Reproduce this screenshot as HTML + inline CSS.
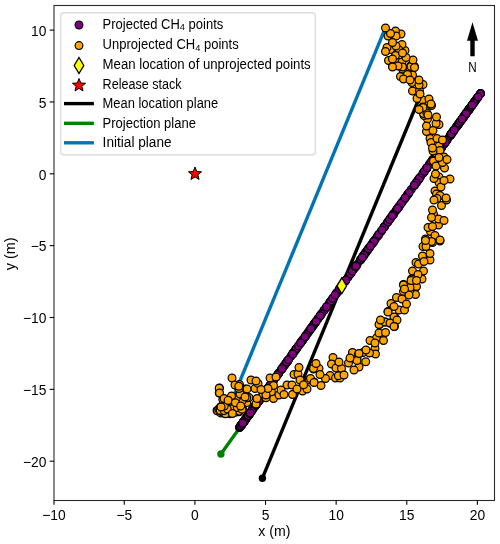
<!DOCTYPE html><html><head><meta charset="utf-8"><style>html,body{margin:0;padding:0;background:#fff;}svg{display:block;will-change:transform;}text{font-family:"Liberation Sans",sans-serif;fill:#000;}</style></head><body>
<svg width="500" height="544" viewBox="0 0 500 544">
<rect width="500" height="544" fill="#fff"/>
<defs><clipPath id="ax"><rect x="54.0" y="5.5" width="440.5" height="495.0"/></clipPath></defs>
<g clip-path="url(#ax)">
<line x1="385.4" y1="27.9" x2="231.3" y2="402" stroke="#0173b2" stroke-width="3.4"/>
<line x1="262.4" y1="478.2" x2="420.5" y2="95" stroke="#000" stroke-width="3.4"/>
<circle cx="262.4" cy="478.2" r="3.7" fill="#000"/>
<line x1="220.9" y1="454" x2="480.2" y2="92.8" stroke="#008000" stroke-width="3.4"/>
<circle cx="220.9" cy="454" r="3.7" fill="#008000"/>
<g fill="#800080" stroke="#000" stroke-width="1.2"><circle cx="239.6" cy="427.4" r="3.9"/><circle cx="242.6" cy="423.2" r="3.9"/><circle cx="245.6" cy="419.0" r="3.9"/><circle cx="248.6" cy="414.9" r="3.9"/><circle cx="251.7" cy="410.7" r="3.9"/><circle cx="254.7" cy="406.5" r="3.9"/><circle cx="257.7" cy="402.3" r="3.9"/><circle cx="260.7" cy="398.2" r="3.9"/><circle cx="263.7" cy="394.0" r="3.9"/><circle cx="266.7" cy="389.8" r="3.9"/><circle cx="269.7" cy="385.6" r="3.9"/><circle cx="272.7" cy="381.5" r="3.9"/><circle cx="275.8" cy="377.3" r="3.9"/><circle cx="278.8" cy="373.1" r="3.9"/><circle cx="281.8" cy="368.9" r="3.9"/><circle cx="284.8" cy="364.8" r="3.9"/><circle cx="287.8" cy="360.6" r="3.9"/><circle cx="290.8" cy="356.4" r="3.9"/><circle cx="293.8" cy="352.2" r="3.9"/><circle cx="296.8" cy="348.1" r="3.9"/><circle cx="299.9" cy="343.9" r="3.9"/><circle cx="302.9" cy="339.7" r="3.9"/><circle cx="305.9" cy="335.5" r="3.9"/><circle cx="308.9" cy="331.4" r="3.9"/><circle cx="311.9" cy="327.2" r="3.9"/><circle cx="314.9" cy="323.0" r="3.9"/><circle cx="317.9" cy="318.8" r="3.9"/><circle cx="320.9" cy="314.7" r="3.9"/><circle cx="323.9" cy="310.5" r="3.9"/><circle cx="327.0" cy="306.3" r="3.9"/><circle cx="330.0" cy="302.1" r="3.9"/><circle cx="333.0" cy="298.0" r="3.9"/><circle cx="336.0" cy="293.8" r="3.9"/><circle cx="339.0" cy="289.6" r="3.9"/><circle cx="342.0" cy="285.4" r="3.9"/><circle cx="345.0" cy="281.3" r="3.9"/><circle cx="348.1" cy="277.1" r="3.9"/><circle cx="351.1" cy="272.9" r="3.9"/><circle cx="354.1" cy="268.8" r="3.9"/><circle cx="357.1" cy="264.6" r="3.9"/><circle cx="360.1" cy="260.4" r="3.9"/><circle cx="363.1" cy="256.2" r="3.9"/><circle cx="366.1" cy="252.0" r="3.9"/><circle cx="369.1" cy="247.9" r="3.9"/><circle cx="372.2" cy="243.7" r="3.9"/><circle cx="375.2" cy="239.5" r="3.9"/><circle cx="378.2" cy="235.3" r="3.9"/><circle cx="381.2" cy="231.2" r="3.9"/><circle cx="384.2" cy="227.0" r="3.9"/><circle cx="387.2" cy="222.8" r="3.9"/><circle cx="390.2" cy="218.6" r="3.9"/><circle cx="393.2" cy="214.5" r="3.9"/><circle cx="396.2" cy="210.3" r="3.9"/><circle cx="399.3" cy="206.1" r="3.9"/><circle cx="402.3" cy="201.9" r="3.9"/><circle cx="405.3" cy="197.8" r="3.9"/><circle cx="408.3" cy="193.6" r="3.9"/><circle cx="411.3" cy="189.4" r="3.9"/><circle cx="414.3" cy="185.2" r="3.9"/><circle cx="417.3" cy="181.1" r="3.9"/><circle cx="420.4" cy="176.9" r="3.9"/><circle cx="423.4" cy="172.7" r="3.9"/><circle cx="426.4" cy="168.5" r="3.9"/><circle cx="429.4" cy="164.4" r="3.9"/><circle cx="432.4" cy="160.2" r="3.9"/><circle cx="435.4" cy="156.0" r="3.9"/><circle cx="438.4" cy="151.8" r="3.9"/><circle cx="441.4" cy="147.7" r="3.9"/><circle cx="444.5" cy="143.5" r="3.9"/><circle cx="447.5" cy="139.3" r="3.9"/><circle cx="450.5" cy="135.1" r="3.9"/><circle cx="453.5" cy="131.0" r="3.9"/><circle cx="456.5" cy="126.8" r="3.9"/><circle cx="459.5" cy="122.6" r="3.9"/><circle cx="462.5" cy="118.4" r="3.9"/><circle cx="465.5" cy="114.3" r="3.9"/><circle cx="468.6" cy="110.1" r="3.9"/><circle cx="471.6" cy="105.9" r="3.9"/><circle cx="474.6" cy="101.8" r="3.9"/><circle cx="477.6" cy="97.6" r="3.9"/><circle cx="480.6" cy="93.4" r="3.9"/><circle cx="245.5" cy="419.4" r="3.9"/><circle cx="245.8" cy="418.8" r="3.9"/><circle cx="240.9" cy="425.6" r="3.9"/><circle cx="244.9" cy="420.1" r="3.9"/><circle cx="241.8" cy="424.5" r="3.9"/><circle cx="242.7" cy="423.2" r="3.9"/><circle cx="239.7" cy="427.4" r="3.9"/><circle cx="242.7" cy="423.2" r="3.9"/><circle cx="239.6" cy="427.4" r="3.9"/><circle cx="239.9" cy="427.1" r="3.9"/><circle cx="245.4" cy="419.4" r="3.9"/><circle cx="249.7" cy="413.5" r="3.9"/><circle cx="249.6" cy="413.6" r="3.9"/><circle cx="249.8" cy="413.4" r="3.9"/><circle cx="242.5" cy="423.4" r="3.9"/><circle cx="242.8" cy="423.1" r="3.9"/><circle cx="250.0" cy="413.1" r="3.9"/><circle cx="253.8" cy="407.8" r="3.9"/><circle cx="245.6" cy="419.2" r="3.9"/><circle cx="244.1" cy="421.2" r="3.9"/><circle cx="248.7" cy="414.8" r="3.9"/><circle cx="244.5" cy="420.7" r="3.9"/><circle cx="242.0" cy="424.1" r="3.9"/><circle cx="244.5" cy="420.7" r="3.9"/><circle cx="242.3" cy="423.7" r="3.9"/><circle cx="248.9" cy="414.6" r="3.9"/><circle cx="245.6" cy="419.2" r="3.9"/><circle cx="247.4" cy="416.7" r="3.9"/><circle cx="243.5" cy="422.1" r="3.9"/><circle cx="240.9" cy="425.7" r="3.9"/><circle cx="242.6" cy="423.4" r="3.9"/><circle cx="244.3" cy="421.0" r="3.9"/><circle cx="244.0" cy="421.4" r="3.9"/><circle cx="245.6" cy="419.1" r="3.9"/><circle cx="246.8" cy="417.6" r="3.9"/><circle cx="244.6" cy="420.5" r="3.9"/><circle cx="245.2" cy="419.7" r="3.9"/><circle cx="247.7" cy="416.3" r="3.9"/><circle cx="248.5" cy="415.2" r="3.9"/><circle cx="248.6" cy="415.0" r="3.9"/><circle cx="249.6" cy="413.7" r="3.9"/><circle cx="240.4" cy="426.3" r="3.9"/><circle cx="248.5" cy="415.2" r="3.9"/><circle cx="242.1" cy="424.0" r="3.9"/><circle cx="242.8" cy="423.0" r="3.9"/><circle cx="249.1" cy="414.3" r="3.9"/><circle cx="245.6" cy="419.1" r="3.9"/><circle cx="240.9" cy="425.6" r="3.9"/><circle cx="240.9" cy="425.7" r="3.9"/><circle cx="241.9" cy="424.3" r="3.9"/><circle cx="243.5" cy="422.0" r="3.9"/><circle cx="241.1" cy="425.3" r="3.9"/><circle cx="242.9" cy="423.0" r="3.9"/><circle cx="247.2" cy="416.9" r="3.9"/><circle cx="243.6" cy="422.0" r="3.9"/><circle cx="248.1" cy="415.7" r="3.9"/><circle cx="245.3" cy="419.6" r="3.9"/><circle cx="240.8" cy="425.8" r="3.9"/><circle cx="242.1" cy="424.1" r="3.9"/><circle cx="244.0" cy="421.4" r="3.9"/><circle cx="248.9" cy="414.5" r="3.9"/><circle cx="243.6" cy="421.9" r="3.9"/><circle cx="243.9" cy="421.6" r="3.9"/><circle cx="244.3" cy="421.0" r="3.9"/><circle cx="273.4" cy="380.6" r="3.9"/><circle cx="437.0" cy="153.8" r="3.9"/><circle cx="432.4" cy="160.2" r="3.9"/><circle cx="404.2" cy="199.4" r="3.9"/><circle cx="457.2" cy="125.9" r="3.9"/><circle cx="474.2" cy="102.2" r="3.9"/><circle cx="256.9" cy="403.4" r="3.9"/><circle cx="336.9" cy="292.7" r="3.9"/><circle cx="480.6" cy="93.4" r="3.9"/><circle cx="314.0" cy="324.3" r="3.9"/><circle cx="461.7" cy="119.6" r="3.9"/><circle cx="451.4" cy="133.8" r="3.9"/><circle cx="329.5" cy="302.9" r="3.9"/><circle cx="470.1" cy="108.0" r="3.9"/><circle cx="305.1" cy="336.7" r="3.9"/><circle cx="276.1" cy="376.9" r="3.9"/><circle cx="326.0" cy="307.7" r="3.9"/><circle cx="416.3" cy="182.5" r="3.9"/><circle cx="350.5" cy="273.8" r="3.9"/><circle cx="324.0" cy="310.4" r="3.9"/><circle cx="450.0" cy="135.8" r="3.9"/><circle cx="391.0" cy="217.5" r="3.9"/><circle cx="468.9" cy="109.6" r="3.9"/><circle cx="393.8" cy="213.6" r="3.9"/><circle cx="460.5" cy="121.3" r="3.9"/><circle cx="265.1" cy="392.2" r="3.9"/><circle cx="407.6" cy="194.6" r="3.9"/><circle cx="278.7" cy="373.2" r="3.9"/><circle cx="292.9" cy="353.6" r="3.9"/><circle cx="265.9" cy="391.1" r="3.9"/><circle cx="397.2" cy="209.0" r="3.9"/><circle cx="350.7" cy="273.4" r="3.9"/><circle cx="469.6" cy="108.6" r="3.9"/><circle cx="373.5" cy="241.9" r="3.9"/><circle cx="330.7" cy="301.1" r="3.9"/><circle cx="407.0" cy="195.5" r="3.9"/><circle cx="251.1" cy="411.6" r="3.9"/><circle cx="429.7" cy="163.9" r="3.9"/><circle cx="464.7" cy="115.4" r="3.9"/><circle cx="426.8" cy="167.9" r="3.9"/><circle cx="437.0" cy="153.9" r="3.9"/><circle cx="373.1" cy="242.5" r="3.9"/><circle cx="301.5" cy="341.6" r="3.9"/><circle cx="450.4" cy="135.2" r="3.9"/><circle cx="256.0" cy="404.7" r="3.9"/><circle cx="310.8" cy="328.8" r="3.9"/><circle cx="398.3" cy="207.5" r="3.9"/><circle cx="399.3" cy="206.1" r="3.9"/><circle cx="350.4" cy="273.9" r="3.9"/><circle cx="367.2" cy="250.6" r="3.9"/><circle cx="252.9" cy="409.1" r="3.9"/><circle cx="468.8" cy="109.7" r="3.9"/><circle cx="463.8" cy="116.7" r="3.9"/><circle cx="268.6" cy="387.3" r="3.9"/><circle cx="295.6" cy="349.8" r="3.9"/><circle cx="287.8" cy="360.7" r="3.9"/><circle cx="451.2" cy="134.2" r="3.9"/><circle cx="267.5" cy="388.9" r="3.9"/><circle cx="259.5" cy="399.9" r="3.9"/><circle cx="271.7" cy="383.0" r="3.9"/><circle cx="271.2" cy="383.7" r="3.9"/><circle cx="326.6" cy="306.9" r="3.9"/><circle cx="339.9" cy="288.4" r="3.9"/><circle cx="414.3" cy="185.2" r="3.9"/><circle cx="263.5" cy="394.4" r="3.9"/><circle cx="464.6" cy="115.6" r="3.9"/><circle cx="296.4" cy="348.8" r="3.9"/><circle cx="345.6" cy="280.6" r="3.9"/><circle cx="365.8" cy="252.5" r="3.9"/><circle cx="308.0" cy="332.7" r="3.9"/><circle cx="317.9" cy="318.9" r="3.9"/><circle cx="341.2" cy="286.6" r="3.9"/><circle cx="295.0" cy="350.6" r="3.9"/><circle cx="465.4" cy="114.5" r="3.9"/><circle cx="384.8" cy="226.2" r="3.9"/><circle cx="287.0" cy="361.8" r="3.9"/><circle cx="336.7" cy="292.9" r="3.9"/><circle cx="455.9" cy="127.6" r="3.9"/><circle cx="441.7" cy="147.3" r="3.9"/><circle cx="378.7" cy="234.6" r="3.9"/><circle cx="462.4" cy="118.7" r="3.9"/><circle cx="441.4" cy="147.8" r="3.9"/><circle cx="454.0" cy="130.2" r="3.9"/><circle cx="262.8" cy="395.4" r="3.9"/><circle cx="260.1" cy="399.0" r="3.9"/><circle cx="457.7" cy="125.1" r="3.9"/><circle cx="277.9" cy="374.4" r="3.9"/><circle cx="367.6" cy="250.0" r="3.9"/><circle cx="443.8" cy="144.4" r="3.9"/><circle cx="457.9" cy="124.9" r="3.9"/><circle cx="360.7" cy="259.6" r="3.9"/><circle cx="314.3" cy="324.0" r="3.9"/><circle cx="398.0" cy="207.9" r="3.9"/><circle cx="440.2" cy="149.4" r="3.9"/><circle cx="321.6" cy="313.8" r="3.9"/><circle cx="352.4" cy="271.1" r="3.9"/><circle cx="450.9" cy="134.6" r="3.9"/><circle cx="263.3" cy="394.7" r="3.9"/><circle cx="394.0" cy="213.5" r="3.9"/><circle cx="476.0" cy="99.7" r="3.9"/><circle cx="466.4" cy="113.1" r="3.9"/><circle cx="246.9" cy="417.4" r="3.9"/><circle cx="472.6" cy="104.5" r="3.9"/><circle cx="472.4" cy="104.8" r="3.9"/><circle cx="266.7" cy="390.0" r="3.9"/><circle cx="408.2" cy="193.8" r="3.9"/><circle cx="388.6" cy="220.9" r="3.9"/><circle cx="283.5" cy="366.6" r="3.9"/><circle cx="369.4" cy="247.6" r="3.9"/><circle cx="377.3" cy="236.5" r="3.9"/><circle cx="439.6" cy="150.2" r="3.9"/><circle cx="301.2" cy="342.0" r="3.9"/><circle cx="281.2" cy="369.8" r="3.9"/><circle cx="258.9" cy="400.7" r="3.9"/><circle cx="364.0" cy="255.0" r="3.9"/><circle cx="424.3" cy="171.5" r="3.9"/><circle cx="252.4" cy="409.7" r="3.9"/><circle cx="363.5" cy="255.7" r="3.9"/><circle cx="255.5" cy="405.4" r="3.9"/><circle cx="345.4" cy="280.7" r="3.9"/><circle cx="302.9" cy="339.7" r="3.9"/><circle cx="384.0" cy="227.3" r="3.9"/><circle cx="320.0" cy="316.0" r="3.9"/><circle cx="276.0" cy="377.0" r="3.9"/><circle cx="446.4" cy="140.8" r="3.9"/><circle cx="473.2" cy="103.6" r="3.9"/><circle cx="297.9" cy="346.6" r="3.9"/><circle cx="363.1" cy="256.3" r="3.9"/><circle cx="345.9" cy="280.1" r="3.9"/><circle cx="468.6" cy="110.0" r="3.9"/><circle cx="460.3" cy="121.5" r="3.9"/><circle cx="320.2" cy="315.8" r="3.9"/><circle cx="463.0" cy="117.8" r="3.9"/><circle cx="467.8" cy="111.1" r="3.9"/><circle cx="248.6" cy="415.0" r="3.9"/><circle cx="286.2" cy="362.9" r="3.9"/><circle cx="248.5" cy="415.2" r="3.9"/><circle cx="293.1" cy="353.3" r="3.9"/><circle cx="332.7" cy="298.4" r="3.9"/><circle cx="355.5" cy="266.9" r="3.9"/><circle cx="436.9" cy="153.9" r="3.9"/><circle cx="285.1" cy="364.4" r="3.9"/><circle cx="264.1" cy="393.6" r="3.9"/><circle cx="259.7" cy="399.6" r="3.9"/><circle cx="339.9" cy="288.4" r="3.9"/><circle cx="315.7" cy="322.0" r="3.9"/><circle cx="418.9" cy="179.0" r="3.9"/><circle cx="465.6" cy="114.1" r="3.9"/><circle cx="469.3" cy="109.0" r="3.9"/><circle cx="438.0" cy="152.5" r="3.9"/><circle cx="418.7" cy="179.2" r="3.9"/><circle cx="270.6" cy="384.5" r="3.9"/><circle cx="464.5" cy="115.7" r="3.9"/><circle cx="312.8" cy="326.0" r="3.9"/><circle cx="444.2" cy="143.9" r="3.9"/><circle cx="364.9" cy="253.8" r="3.9"/><circle cx="250.9" cy="411.9" r="3.9"/><circle cx="368.5" cy="248.8" r="3.9"/><circle cx="418.0" cy="180.2" r="3.9"/><circle cx="378.9" cy="234.4" r="3.9"/><circle cx="446.5" cy="140.6" r="3.9"/><circle cx="469.6" cy="108.6" r="3.9"/><circle cx="260.2" cy="398.9" r="3.9"/><circle cx="341.2" cy="286.6" r="3.9"/><circle cx="267.1" cy="389.3" r="3.9"/><circle cx="466.9" cy="112.3" r="3.9"/><circle cx="387.8" cy="222.0" r="3.9"/><circle cx="480.1" cy="94.1" r="3.9"/><circle cx="345.1" cy="281.2" r="3.9"/><circle cx="409.1" cy="192.5" r="3.9"/><circle cx="393.0" cy="214.8" r="3.9"/><circle cx="356.7" cy="265.2" r="3.9"/><circle cx="477.9" cy="97.1" r="3.9"/><circle cx="401.3" cy="203.2" r="3.9"/><circle cx="418.5" cy="179.5" r="3.9"/><circle cx="296.3" cy="348.8" r="3.9"/><circle cx="314.5" cy="323.6" r="3.9"/><circle cx="445.4" cy="142.2" r="3.9"/><circle cx="298.4" cy="345.9" r="3.9"/><circle cx="459.9" cy="122.1" r="3.9"/><circle cx="309.8" cy="330.2" r="3.9"/><circle cx="382.0" cy="230.1" r="3.9"/><circle cx="283.0" cy="367.3" r="3.9"/><circle cx="451.9" cy="133.2" r="3.9"/><circle cx="255.4" cy="405.5" r="3.9"/><circle cx="312.1" cy="327.0" r="3.9"/><circle cx="373.8" cy="241.5" r="3.9"/><circle cx="430.9" cy="162.2" r="3.9"/><circle cx="419.4" cy="178.2" r="3.9"/><circle cx="433.0" cy="159.4" r="3.9"/><circle cx="267.8" cy="388.4" r="3.9"/><circle cx="422.8" cy="173.4" r="3.9"/><circle cx="306.6" cy="334.6" r="3.9"/><circle cx="264.9" cy="392.4" r="3.9"/><circle cx="341.2" cy="286.7" r="3.9"/><circle cx="251.5" cy="411.0" r="3.9"/><circle cx="339.3" cy="289.3" r="3.9"/><circle cx="345.7" cy="280.4" r="3.9"/><circle cx="273.6" cy="380.4" r="3.9"/><circle cx="434.9" cy="156.8" r="3.9"/><circle cx="426.9" cy="167.8" r="3.9"/><circle cx="471.3" cy="106.3" r="3.9"/><circle cx="438.2" cy="152.2" r="3.9"/><circle cx="465.3" cy="114.6" r="3.9"/><circle cx="255.8" cy="405.1" r="3.9"/><circle cx="397.6" cy="208.4" r="3.9"/><circle cx="416.1" cy="182.9" r="3.9"/><circle cx="475.1" cy="101.0" r="3.9"/><circle cx="437.8" cy="152.7" r="3.9"/><circle cx="405.2" cy="197.9" r="3.9"/><circle cx="248.7" cy="414.8" r="3.9"/><circle cx="316.1" cy="321.5" r="3.9"/><circle cx="458.3" cy="124.3" r="3.9"/><circle cx="335.2" cy="294.9" r="3.9"/><circle cx="310.8" cy="328.8" r="3.9"/><circle cx="257.7" cy="402.4" r="3.9"/><circle cx="361.0" cy="259.2" r="3.9"/><circle cx="452.6" cy="132.1" r="3.9"/><circle cx="436.0" cy="155.2" r="3.9"/><circle cx="256.4" cy="404.3" r="3.9"/><circle cx="247.7" cy="416.2" r="3.9"/><circle cx="459.1" cy="123.2" r="3.9"/><circle cx="452.0" cy="133.0" r="3.9"/><circle cx="287.4" cy="361.2" r="3.9"/><circle cx="453.8" cy="130.5" r="3.9"/><circle cx="477.1" cy="98.2" r="3.9"/><circle cx="257.9" cy="402.1" r="3.9"/><circle cx="478.0" cy="97.0" r="3.9"/><circle cx="463.9" cy="116.6" r="3.9"/><circle cx="460.4" cy="121.4" r="3.9"/><circle cx="389.7" cy="219.4" r="3.9"/><circle cx="341.0" cy="286.9" r="3.9"/><circle cx="462.2" cy="118.9" r="3.9"/><circle cx="465.9" cy="113.8" r="3.9"/><circle cx="286.7" cy="362.1" r="3.9"/><circle cx="292.6" cy="354.0" r="3.9"/><circle cx="424.4" cy="171.3" r="3.9"/><circle cx="288.5" cy="359.7" r="3.9"/><circle cx="414.3" cy="185.3" r="3.9"/><circle cx="355.9" cy="266.2" r="3.9"/><circle cx="277.7" cy="374.6" r="3.9"/><circle cx="392.3" cy="215.7" r="3.9"/><circle cx="473.6" cy="103.1" r="3.9"/><circle cx="282.0" cy="368.7" r="3.9"/><circle cx="451.5" cy="133.7" r="3.9"/><circle cx="292.6" cy="354.0" r="3.9"/><circle cx="370.4" cy="246.1" r="3.9"/><circle cx="248.4" cy="415.3" r="3.9"/><circle cx="300.7" cy="342.7" r="3.9"/><circle cx="454.1" cy="130.1" r="3.9"/><circle cx="427.0" cy="167.7" r="3.9"/><circle cx="462.1" cy="119.0" r="3.9"/><circle cx="363.8" cy="255.3" r="3.9"/><circle cx="259.3" cy="400.2" r="3.9"/><circle cx="472.2" cy="105.0" r="3.9"/><circle cx="258.7" cy="401.0" r="3.9"/><circle cx="305.1" cy="336.7" r="3.9"/><circle cx="362.2" cy="257.5" r="3.9"/><circle cx="248.3" cy="415.5" r="3.9"/><circle cx="249.7" cy="413.5" r="3.9"/><circle cx="242.7" cy="423.1" r="3.9"/><circle cx="250.1" cy="413.0" r="3.9"/></g>
<g fill="#ffa500" stroke="#000" stroke-width="1.2"><circle cx="231.6" cy="409.0" r="3.9"/><circle cx="234.8" cy="410.6" r="3.9"/><circle cx="224.0" cy="413.0" r="3.9"/><circle cx="230.0" cy="409.0" r="3.9"/><circle cx="225.0" cy="412.0" r="3.9"/><circle cx="221.0" cy="407.0" r="3.9"/><circle cx="217.0" cy="410.5" r="3.9"/><circle cx="229.0" cy="413.0" r="3.9"/><circle cx="217.6" cy="411.0" r="3.9"/><circle cx="221.0" cy="413.0" r="3.9"/><circle cx="233.5" cy="410.5" r="3.9"/><circle cx="235.6" cy="403.0" r="3.9"/><circle cx="235.5" cy="403.0" r="3.9"/><circle cx="240.5" cy="406.5" r="3.9"/><circle cx="229.6" cy="413.8" r="3.9"/><circle cx="221.2" cy="407.0" r="3.9"/><circle cx="241.2" cy="406.6" r="3.9"/><circle cx="246.8" cy="402.6" r="3.9"/><circle cx="236.0" cy="412.0" r="3.9"/><circle cx="229.3" cy="410.2" r="3.9"/><circle cx="241.1" cy="409.1" r="3.9"/><circle cx="230.7" cy="410.5" r="3.9"/><circle cx="222.6" cy="409.6" r="3.9"/><circle cx="233.7" cy="412.7" r="3.9"/><circle cx="220.4" cy="407.3" r="3.9"/><circle cx="235.3" cy="404.5" r="3.9"/><circle cx="234.3" cy="410.8" r="3.9"/><circle cx="231.2" cy="404.7" r="3.9"/><circle cx="222.8" cy="406.7" r="3.9"/><circle cx="218.8" cy="409.1" r="3.9"/><circle cx="229.0" cy="413.3" r="3.9"/><circle cx="231.0" cy="411.0" r="3.9"/><circle cx="230.5" cy="411.3" r="3.9"/><circle cx="229.4" cy="407.1" r="3.9"/><circle cx="239.0" cy="411.8" r="3.9"/><circle cx="225.9" cy="406.5" r="3.9"/><circle cx="225.2" cy="404.8" r="3.9"/><circle cx="237.2" cy="408.4" r="3.9"/><circle cx="239.2" cy="408.3" r="3.9"/><circle cx="240.8" cy="409.2" r="3.9"/><circle cx="242.5" cy="408.4" r="3.9"/><circle cx="219.8" cy="410.9" r="3.9"/><circle cx="237.5" cy="407.0" r="3.9"/><circle cx="220.2" cy="407.7" r="3.9"/><circle cx="220.9" cy="406.7" r="3.9"/><circle cx="237.9" cy="406.0" r="3.9"/><circle cx="232.0" cy="408.9" r="3.9"/><circle cx="222.8" cy="412.1" r="3.9"/><circle cx="221.3" cy="411.1" r="3.9"/><circle cx="220.9" cy="408.6" r="3.9"/><circle cx="223.3" cy="407.0" r="3.9"/><circle cx="225.6" cy="413.7" r="3.9"/><circle cx="223.3" cy="408.3" r="3.9"/><circle cx="239.4" cy="411.1" r="3.9"/><circle cx="223.3" cy="406.8" r="3.9"/><circle cx="237.3" cy="407.6" r="3.9"/><circle cx="225.4" cy="404.8" r="3.9"/><circle cx="220.3" cy="410.4" r="3.9"/><circle cx="224.1" cy="410.6" r="3.9"/><circle cx="227.3" cy="409.0" r="3.9"/><circle cx="242.0" cy="409.3" r="3.9"/><circle cx="232.4" cy="413.5" r="3.9"/><circle cx="222.6" cy="405.7" r="3.9"/><circle cx="224.2" cy="406.1" r="3.9"/><circle cx="270.0" cy="378.0" r="3.9"/><circle cx="436.0" cy="153.0" r="3.9"/><circle cx="433.5" cy="161.0" r="3.9"/><circle cx="438.5" cy="225.0" r="3.9"/><circle cx="422.5" cy="100.0" r="3.9"/><circle cx="405.0" cy="50.5" r="3.9"/><circle cx="249.0" cy="397.5" r="3.9"/><circle cx="379.5" cy="324.5" r="3.9"/><circle cx="401.0" cy="34.0" r="3.9"/><circle cx="352.5" cy="353.0" r="3.9"/><circle cx="412.0" cy="82.5" r="3.9"/><circle cx="439.0" cy="124.5" r="3.9"/><circle cx="376.5" cy="338.0" r="3.9"/><circle cx="414.5" cy="66.5" r="3.9"/><circle cx="333.0" cy="357.5" r="3.9"/><circle cx="287.0" cy="385.0" r="3.9"/><circle cx="370.0" cy="340.5" r="3.9"/><circle cx="437.0" cy="198.0" r="3.9"/><circle cx="399.0" cy="310.0" r="3.9"/><circle cx="375.0" cy="348.5" r="3.9"/><circle cx="427.5" cy="119.0" r="3.9"/><circle cx="426.5" cy="244.0" r="3.9"/><circle cx="410.5" cy="66.0" r="3.9"/><circle cx="432.5" cy="242.5" r="3.9"/><circle cx="400.5" cy="76.5" r="3.9"/><circle cx="273.5" cy="398.5" r="3.9"/><circle cx="433.5" cy="214.0" r="3.9"/><circle cx="302.5" cy="391.0" r="3.9"/><circle cx="313.5" cy="369.0" r="3.9"/><circle cx="251.0" cy="380.0" r="3.9"/><circle cx="440.0" cy="241.0" r="3.9"/><circle cx="391.0" cy="303.5" r="3.9"/><circle cx="390.5" cy="49.5" r="3.9"/><circle cx="412.5" cy="271.0" r="3.9"/><circle cx="383.5" cy="340.5" r="3.9"/><circle cx="438.5" cy="219.0" r="3.9"/><circle cx="219.5" cy="388.0" r="3.9"/><circle cx="450.0" cy="179.0" r="3.9"/><circle cx="402.5" cy="69.0" r="3.9"/><circle cx="439.0" cy="177.0" r="3.9"/><circle cx="436.5" cy="153.5" r="3.9"/><circle cx="422.0" cy="279.0" r="3.9"/><circle cx="331.5" cy="364.0" r="3.9"/><circle cx="424.0" cy="115.5" r="3.9"/><circle cx="246.8" cy="397.8" r="3.9"/><circle cx="350.5" cy="358.5" r="3.9"/><circle cx="430.5" cy="231.5" r="3.9"/><circle cx="428.0" cy="227.5" r="3.9"/><circle cx="394.0" cy="306.5" r="3.9"/><circle cx="416.0" cy="287.0" r="3.9"/><circle cx="242.0" cy="401.0" r="3.9"/><circle cx="411.0" cy="66.5" r="3.9"/><circle cx="388.5" cy="60.5" r="3.9"/><circle cx="279.0" cy="395.0" r="3.9"/><circle cx="330.0" cy="375.5" r="3.9"/><circle cx="321.0" cy="385.5" r="3.9"/><circle cx="423.5" cy="113.5" r="3.9"/><circle cx="271.4" cy="391.8" r="3.9"/><circle cx="245.0" cy="389.0" r="3.9"/><circle cx="281.0" cy="390.0" r="3.9"/><circle cx="273.5" cy="385.5" r="3.9"/><circle cx="375.0" cy="343.0" r="3.9"/><circle cx="385.0" cy="322.0" r="3.9"/><circle cx="441.5" cy="205.5" r="3.9"/><circle cx="263.0" cy="394.0" r="3.9"/><circle cx="423.0" cy="84.5" r="3.9"/><circle cx="335.5" cy="378.0" r="3.9"/><circle cx="395.0" cy="317.5" r="3.9"/><circle cx="410.0" cy="285.5" r="3.9"/><circle cx="348.5" cy="363.0" r="3.9"/><circle cx="363.0" cy="352.5" r="3.9"/><circle cx="390.0" cy="323.0" r="3.9"/><circle cx="319.0" cy="368.5" r="3.9"/><circle cx="412.5" cy="75.0" r="3.9"/><circle cx="430.0" cy="260.0" r="3.9"/><circle cx="314.0" cy="382.0" r="3.9"/><circle cx="379.0" cy="324.5" r="3.9"/><circle cx="417.0" cy="98.5" r="3.9"/><circle cx="430.0" cy="138.5" r="3.9"/><circle cx="416.0" cy="262.5" r="3.9"/><circle cx="392.5" cy="66.5" r="3.9"/><circle cx="439.0" cy="146.0" r="3.9"/><circle cx="423.0" cy="107.0" r="3.9"/><circle cx="266.0" cy="397.8" r="3.9"/><circle cx="232.0" cy="378.0" r="3.9"/><circle cx="431.5" cy="105.5" r="3.9"/><circle cx="292.0" cy="385.0" r="3.9"/><circle cx="416.5" cy="286.5" r="3.9"/><circle cx="426.5" cy="131.5" r="3.9"/><circle cx="412.5" cy="91.0" r="3.9"/><circle cx="403.5" cy="291.5" r="3.9"/><circle cx="352.5" cy="352.5" r="3.9"/><circle cx="435.0" cy="235.5" r="3.9"/><circle cx="431.0" cy="142.5" r="3.9"/><circle cx="375.5" cy="354.0" r="3.9"/><circle cx="404.5" cy="310.0" r="3.9"/><circle cx="436.0" cy="123.5" r="3.9"/><circle cx="255.0" cy="388.5" r="3.9"/><circle cx="431.5" cy="241.5" r="3.9"/><circle cx="402.0" cy="44.5" r="3.9"/><circle cx="398.0" cy="62.0" r="3.9"/><circle cx="222.8" cy="399.4" r="3.9"/><circle cx="413.0" cy="60.0" r="3.9"/><circle cx="399.0" cy="50.0" r="3.9"/><circle cx="258.0" cy="383.5" r="3.9"/><circle cx="444.0" cy="220.5" r="3.9"/><circle cx="423.0" cy="246.5" r="3.9"/><circle cx="294.0" cy="374.5" r="3.9"/><circle cx="411.5" cy="279.0" r="3.9"/><circle cx="423.5" cy="271.0" r="3.9"/><circle cx="440.0" cy="150.5" r="3.9"/><circle cx="336.0" cy="368.0" r="3.9"/><circle cx="307.0" cy="389.0" r="3.9"/><circle cx="244.4" cy="389.8" r="3.9"/><circle cx="403.5" cy="284.5" r="3.9"/><circle cx="439.0" cy="182.5" r="3.9"/><circle cx="236.4" cy="397.8" r="3.9"/><circle cx="415.5" cy="294.5" r="3.9"/><circle cx="240.0" cy="393.8" r="3.9"/><circle cx="394.0" cy="317.0" r="3.9"/><circle cx="341.5" cy="368.5" r="3.9"/><circle cx="422.5" cy="256.0" r="3.9"/><circle cx="369.5" cy="353.0" r="3.9"/><circle cx="276.0" cy="377.0" r="3.9"/><circle cx="426.5" cy="126.0" r="3.9"/><circle cx="396.0" cy="46.0" r="3.9"/><circle cx="340.0" cy="378.0" r="3.9"/><circle cx="409.5" cy="291.0" r="3.9"/><circle cx="388.0" cy="311.5" r="3.9"/><circle cx="395.5" cy="55.5" r="3.9"/><circle cx="419.5" cy="91.0" r="3.9"/><circle cx="366.0" cy="350.0" r="3.9"/><circle cx="419.0" cy="85.0" r="3.9"/><circle cx="402.0" cy="62.0" r="3.9"/><circle cx="219.2" cy="393.0" r="3.9"/><circle cx="309.0" cy="380.0" r="3.9"/><circle cx="228.4" cy="400.2" r="3.9"/><circle cx="313.5" cy="368.5" r="3.9"/><circle cx="379.0" cy="333.0" r="3.9"/><circle cx="396.5" cy="297.5" r="3.9"/><circle cx="433.0" cy="151.0" r="3.9"/><circle cx="298.0" cy="374.0" r="3.9"/><circle cx="266.0" cy="395.0" r="3.9"/><circle cx="239.5" cy="384.5" r="3.9"/><circle cx="385.0" cy="322.0" r="3.9"/><circle cx="358.5" cy="354.0" r="3.9"/><circle cx="435.0" cy="191.0" r="3.9"/><circle cx="402.5" cy="67.0" r="3.9"/><circle cx="387.0" cy="47.5" r="3.9"/><circle cx="444.0" cy="157.0" r="3.9"/><circle cx="446.5" cy="200.0" r="3.9"/><circle cx="284.0" cy="394.5" r="3.9"/><circle cx="398.0" cy="66.0" r="3.9"/><circle cx="357.0" cy="359.0" r="3.9"/><circle cx="437.0" cy="138.5" r="3.9"/><circle cx="410.0" cy="287.5" r="3.9"/><circle cx="219.2" cy="388.2" r="3.9"/><circle cx="411.0" cy="280.5" r="3.9"/><circle cx="436.5" cy="194.0" r="3.9"/><circle cx="418.5" cy="264.0" r="3.9"/><circle cx="433.0" cy="130.5" r="3.9"/><circle cx="414.5" cy="67.5" r="3.9"/><circle cx="247.0" cy="389.0" r="3.9"/><circle cx="390.0" cy="323.0" r="3.9"/><circle cx="256.0" cy="381.0" r="3.9"/><circle cx="385.5" cy="51.5" r="3.9"/><circle cx="430.0" cy="253.5" r="3.9"/><circle cx="395.5" cy="31.0" r="3.9"/><circle cx="397.0" cy="320.0" r="3.9"/><circle cx="432.5" cy="210.0" r="3.9"/><circle cx="425.5" cy="239.0" r="3.9"/><circle cx="402.0" cy="299.0" r="3.9"/><circle cx="396.0" cy="36.0" r="3.9"/><circle cx="432.5" cy="226.5" r="3.9"/><circle cx="440.0" cy="195.5" r="3.9"/><circle cx="316.0" cy="363.5" r="3.9"/><circle cx="365.7" cy="361.8" r="3.9"/><circle cx="442.5" cy="140.0" r="3.9"/><circle cx="338.4" cy="375.8" r="3.9"/><circle cx="429.0" cy="99.0" r="3.9"/><circle cx="359.0" cy="367.0" r="3.9"/><circle cx="424.0" cy="261.5" r="3.9"/><circle cx="300.0" cy="380.0" r="3.9"/><circle cx="419.5" cy="109.0" r="3.9"/><circle cx="240.0" cy="394.0" r="3.9"/><circle cx="357.0" cy="360.5" r="3.9"/><circle cx="418.0" cy="274.5" r="3.9"/><circle cx="436.0" cy="166.0" r="3.9"/><circle cx="446.0" cy="198.0" r="3.9"/><circle cx="444.5" cy="168.0" r="3.9"/><circle cx="268.0" cy="388.5" r="3.9"/><circle cx="441.0" cy="187.0" r="3.9"/><circle cx="354.0" cy="370.0" r="3.9"/><circle cx="261.0" cy="389.5" r="3.9"/><circle cx="394.5" cy="326.5" r="3.9"/><circle cx="231.5" cy="396.0" r="3.9"/><circle cx="380.5" cy="320.0" r="3.9"/><circle cx="388.0" cy="312.0" r="3.9"/><circle cx="292.5" cy="394.5" r="3.9"/><circle cx="442.5" cy="162.5" r="3.9"/><circle cx="444.0" cy="180.5" r="3.9"/><circle cx="406.0" cy="57.5" r="3.9"/><circle cx="432.5" cy="148.0" r="3.9"/><circle cx="419.0" cy="80.0" r="3.9"/><circle cx="245.0" cy="397.0" r="3.9"/><circle cx="440.0" cy="240.0" r="3.9"/><circle cx="437.0" cy="198.5" r="3.9"/><circle cx="388.0" cy="36.0" r="3.9"/><circle cx="447.0" cy="159.5" r="3.9"/><circle cx="431.5" cy="217.5" r="3.9"/><circle cx="219.5" cy="393.0" r="3.9"/><circle cx="359.0" cy="353.5" r="3.9"/><circle cx="431.0" cy="104.0" r="3.9"/><circle cx="385.5" cy="332.5" r="3.9"/><circle cx="350.0" cy="358.0" r="3.9"/><circle cx="239.0" cy="388.5" r="3.9"/><circle cx="409.0" cy="295.0" r="3.9"/><circle cx="427.0" cy="113.0" r="3.9"/><circle cx="439.0" cy="157.5" r="3.9"/><circle cx="256.0" cy="404.0" r="3.9"/><circle cx="224.0" cy="398.5" r="3.9"/><circle cx="420.0" cy="94.0" r="3.9"/><circle cx="428.0" cy="115.0" r="3.9"/><circle cx="310.5" cy="378.5" r="3.9"/><circle cx="423.0" cy="107.5" r="3.9"/><circle cx="390.5" cy="33.5" r="3.9"/><circle cx="235.0" cy="385.0" r="3.9"/><circle cx="385.5" cy="28.0" r="3.9"/><circle cx="407.5" cy="74.5" r="3.9"/><circle cx="403.5" cy="79.0" r="3.9"/><circle cx="426.0" cy="246.5" r="3.9"/><circle cx="394.0" cy="326.5" r="3.9"/><circle cx="410.0" cy="80.0" r="3.9"/><circle cx="392.5" cy="59.0" r="3.9"/><circle cx="314.0" cy="382.5" r="3.9"/><circle cx="325.5" cy="378.5" r="3.9"/><circle cx="434.0" cy="178.5" r="3.9"/><circle cx="299.0" cy="367.5" r="3.9"/><circle cx="434.0" cy="200.0" r="3.9"/><circle cx="406.5" cy="304.0" r="3.9"/><circle cx="297.0" cy="389.0" r="3.9"/><circle cx="425.5" cy="240.5" r="3.9"/><circle cx="392.5" cy="42.5" r="3.9"/><circle cx="303.6" cy="384.8" r="3.9"/><circle cx="419.0" cy="109.5" r="3.9"/><circle cx="320.0" cy="374.5" r="3.9"/><circle cx="416.5" cy="280.5" r="3.9"/><circle cx="228.5" cy="400.5" r="3.9"/><circle cx="344.0" cy="375.0" r="3.9"/><circle cx="436.5" cy="117.0" r="3.9"/><circle cx="435.5" cy="174.0" r="3.9"/><circle cx="392.5" cy="67.0" r="3.9"/><circle cx="403.5" cy="285.0" r="3.9"/><circle cx="257.0" cy="398.5" r="3.9"/><circle cx="402.5" cy="53.0" r="3.9"/><circle cx="238.8" cy="386.2" r="3.9"/><circle cx="339.0" cy="362.0" r="3.9"/><circle cx="404.5" cy="289.0" r="3.9"/><circle cx="228.1" cy="400.4" r="3.9"/><circle cx="235.4" cy="402.8" r="3.9"/><circle cx="221.1" cy="407.0" r="3.9"/><circle cx="240.7" cy="406.0" r="3.9"/></g>
<path d="M341.8,277.8 L346.6,285.8 L341.8,293.8 L337.0,285.8 Z" fill="#ffff00" stroke="#000" stroke-width="1.3"/>
<path d="M195.00,167.00 L196.76,171.47 L201.56,171.77 L197.85,174.83 L199.06,179.48 L195.00,176.90 L190.94,179.48 L192.15,174.83 L188.44,171.77 L193.24,171.47 Z" fill="#ff0000" stroke="#000" stroke-width="1.0" stroke-linejoin="miter"/>
</g>
<path d="M472.5,22.2 L478,40.7 L474.7,40.7 L474.7,56.2 L470.3,56.2 L470.3,40.7 L467,40.7 Z" fill="#000"/>
<text transform="translate(472.5,72.2) scale(0.84,1)" font-size="13.9" text-anchor="middle">N</text>
<rect x="60.8" y="12.8" width="254.5" height="142" rx="2.8" ry="2.8" fill="#fff" fill-opacity="0.8" stroke="#d6d6d6" stroke-width="1.2"/>
<circle cx="79" cy="25" r="3.9" fill="#800080" stroke="#000" stroke-width="1.2"/>
<circle cx="79" cy="45.6" r="3.9" fill="#ffa500" stroke="#000" stroke-width="1.2"/>
<path d="M79,57.5 L83.8,65.5 L79,73.5 L74.2,65.5 Z" fill="#ffff00" stroke="#000" stroke-width="1.3"/>
<path d="M79.00,78.50 L80.76,82.97 L85.56,83.27 L81.85,86.33 L83.06,90.98 L79.00,88.40 L74.94,90.98 L76.15,86.33 L72.44,83.27 L77.24,82.97 Z" fill="#ff0000" stroke="#000" stroke-width="1.0"/>
<line x1="64" y1="103.6" x2="93.9" y2="103.6" stroke="#000" stroke-width="3.4"/>
<line x1="64" y1="123.3" x2="93.9" y2="123.3" stroke="#008000" stroke-width="3.4"/>
<line x1="64" y1="142.8" x2="93.9" y2="142.8" stroke="#0173b2" stroke-width="3.4"/>
<text x="102.6" y="28.6" font-size="13.8" textLength="120.64" lengthAdjust="spacingAndGlyphs">Projected CH<tspan font-size="9.8" dy="1.8">4</tspan><tspan dy="-1.8"> points</tspan></text>
<text x="102.6" y="48.8" font-size="13.8" textLength="136.08" lengthAdjust="spacingAndGlyphs">Unprojected CH<tspan font-size="9.8" dy="1.8">4</tspan><tspan dy="-1.8"> points</tspan></text>
<text x="102.6" y="69" font-size="13.8" textLength="208.06" lengthAdjust="spacingAndGlyphs">Mean location of unprojected points</text>
<text x="102.6" y="88.6" font-size="13.8" textLength="79.01" lengthAdjust="spacingAndGlyphs">Release stack</text>
<text x="102.6" y="108.2" font-size="13.8" textLength="115.60" lengthAdjust="spacingAndGlyphs">Mean location plane</text>
<text x="102.6" y="127.5" font-size="13.8" textLength="93.34" lengthAdjust="spacingAndGlyphs">Projection plane</text>
<text x="102.6" y="146.8" font-size="13.8" textLength="69.00" lengthAdjust="spacingAndGlyphs">Initial plane</text>
<rect x="54.0" y="5.5" width="440.5" height="495.0" fill="none" stroke="#2a2a2a" stroke-width="1.1"/>
<line x1="54.00" y1="500.5" x2="54.00" y2="504.8" stroke="#000" stroke-width="1.1"/>
<text transform="translate(54.00,519.6) scale(0.96,1)" font-size="14.4" text-anchor="middle">−10</text>
<line x1="124.28" y1="500.5" x2="124.28" y2="504.8" stroke="#000" stroke-width="1.1"/>
<text transform="translate(124.28,519.6) scale(0.96,1)" font-size="14.4" text-anchor="middle">−5</text>
<line x1="194.90" y1="500.5" x2="194.90" y2="504.8" stroke="#000" stroke-width="1.1"/>
<text transform="translate(194.90,519.6) scale(0.96,1)" font-size="14.4" text-anchor="middle">0</text>
<line x1="265.52" y1="500.5" x2="265.52" y2="504.8" stroke="#000" stroke-width="1.1"/>
<text transform="translate(265.52,519.6) scale(0.96,1)" font-size="14.4" text-anchor="middle">5</text>
<line x1="336.15" y1="500.5" x2="336.15" y2="504.8" stroke="#000" stroke-width="1.1"/>
<text transform="translate(336.15,519.6) scale(0.96,1)" font-size="14.4" text-anchor="middle">10</text>
<line x1="406.77" y1="500.5" x2="406.77" y2="504.8" stroke="#000" stroke-width="1.1"/>
<text transform="translate(406.77,519.6) scale(0.96,1)" font-size="14.4" text-anchor="middle">15</text>
<line x1="477.40" y1="500.5" x2="477.40" y2="504.8" stroke="#000" stroke-width="1.1"/>
<text transform="translate(477.40,519.6) scale(0.96,1)" font-size="14.4" text-anchor="middle">20</text>
<line x1="54.0" y1="461.20" x2="49.7" y2="461.20" stroke="#000" stroke-width="1.1"/>
<text transform="translate(46.4,467.00) scale(0.96,1)" font-size="14.4" text-anchor="end">−20</text>
<line x1="54.0" y1="389.35" x2="49.7" y2="389.35" stroke="#000" stroke-width="1.1"/>
<text transform="translate(46.4,395.15) scale(0.96,1)" font-size="14.4" text-anchor="end">−15</text>
<line x1="54.0" y1="317.50" x2="49.7" y2="317.50" stroke="#000" stroke-width="1.1"/>
<text transform="translate(46.4,323.30) scale(0.96,1)" font-size="14.4" text-anchor="end">−10</text>
<line x1="54.0" y1="245.65" x2="49.7" y2="245.65" stroke="#000" stroke-width="1.1"/>
<text transform="translate(46.4,251.45) scale(0.96,1)" font-size="14.4" text-anchor="end">−5</text>
<line x1="54.0" y1="173.80" x2="49.7" y2="173.80" stroke="#000" stroke-width="1.1"/>
<text transform="translate(46.4,179.60) scale(0.96,1)" font-size="14.4" text-anchor="end">0</text>
<line x1="54.0" y1="101.95" x2="49.7" y2="101.95" stroke="#000" stroke-width="1.1"/>
<text transform="translate(46.4,107.75) scale(0.96,1)" font-size="14.4" text-anchor="end">5</text>
<line x1="54.0" y1="30.10" x2="49.7" y2="30.10" stroke="#000" stroke-width="1.1"/>
<text transform="translate(46.4,35.90) scale(0.96,1)" font-size="14.4" text-anchor="end">10</text>
<text x="274.3" y="536.2" font-size="13.8" text-anchor="middle" textLength="32.2" lengthAdjust="spacingAndGlyphs">x (m)</text>
<text transform="translate(15.1,253.8) rotate(-90)" x="0" y="0" font-size="13.8" text-anchor="middle" textLength="33" lengthAdjust="spacingAndGlyphs">y (m)</text>
</svg></body></html>
